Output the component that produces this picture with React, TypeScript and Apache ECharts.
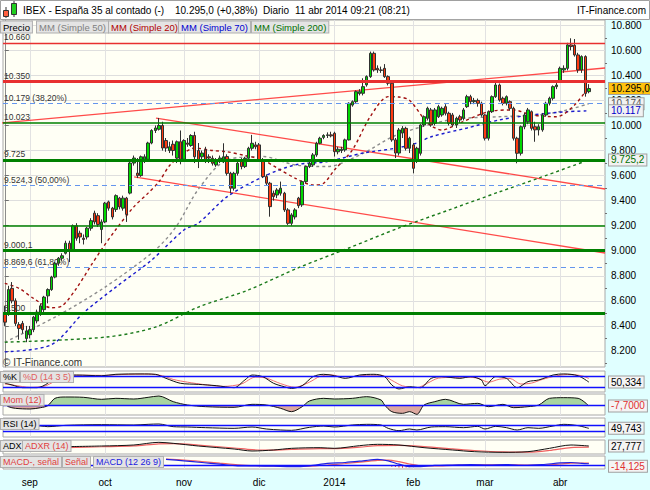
import { useEffect, useRef } from 'react';
import * as echarts from 'echarts';

// ---------------- data ----------------
// daily candles [open, close, low, high], 22 Aug 2013 .. 11 Apr 2014
const ohlc = [
  [8500,8430,8400,8560],[8500,8690,8480,8720],[8700,8600,8580,8750],[8600,8420,8400,8620],[8410,8380,8290,8430],
  [8420,8370,8340,8440],[8300,8360,8270,8400],[8330,8370,8300,8400],[8370,8470,8350,8480],[8440,8510,8420,8530],
  [8500,8560,8480,8580],[8530,8630,8510,8640],[8640,8690,8580,8700],[8690,8790,8680,8800],[8790,8900,8780,8910],
  [8900,8940,8880,8950],[8940,8960,8920,8980],[8980,9060,8970,9080],[9060,9000,8910,9080],[9000,9200,8990,9210],
  [9200,9100,9080,9220],[9140,9110,9060,9160],[9100,9090,9050,9130],[9110,9180,9090,9190],[9180,9240,9160,9260],
  [9300,9230,9210,9320],[9280,9210,9190,9300],[9170,9230,9060,9250],[9230,9380,9220,9390],[9390,9340,9320,9400],
  [9340,9270,9250,9350],[9330,9440,9310,9450],[9420,9350,9330,9430],[9340,9420,9320,9440],[9420,9290,9230,9430],
  [9460,9700,9450,9710],[9700,9740,9680,9760],[9620,9600,9580,9740],[9600,9750,9590,9760],[9720,9750,9700,9770],
  [9730,9860,9720,9870],[9860,9960,9850,9970],[9960,9980,9940,10000],[9970,10000,9960,10060],[10000,9820,9800,10030],
  [9880,9820,9790,9900],[9800,9830,9780,9870],[9850,9800,9760,9880],[9740,9870,9700,9880],[9870,9730,9690,9960],
  [9730,9880,9720,9890],[9860,9850,9830,9900],[9840,9920,9830,9930],[9920,9750,9700,9950],[9800,9720,9660,9860],
  [9750,9780,9730,9800],[9805,9725,9700,9830],[9750,9740,9700,9770],[9738,9698,9680,9760],[9685,9725,9670,9740],
  [9720,9740,9700,9760],[9725,9750,9700,9858],[9752,9618,9600,9770],[9618,9499,9459,9630],[9499,9618,9480,9630],
  [9618,9698,9600,9710],[9725,9672,9650,9740],[9672,9738,9660,9750],[9738,9818,9720,9830],[9818,9858,9800,9925],
  [9845,9830,9810,9870],[9845,9725,9710,9860],[9725,9592,9580,9740],[9592,9539,9520,9610],[9539,9352,9272,9550],
  [9459,9432,9400,9480],[9445,9485,9420,9500],[9459,9499,9440,9552],[9459,9326,9310,9470],[9326,9219,9206,9340],
  [9219,9286,9200,9300],[9270,9326,9250,9340],[9420,9360,9340,9430],[9366,9552,9350,9560],[9552,9672,9540,9680],
  [9672,9698,9660,9710],[9685,9765,9670,9780],[9765,9858,9750,9870],[9858,9898,9850,9910],[9905,9920,9890,9930],
  [9920,9925,9900,9945],[9925,9917,9905,9950],[9938,9791,9752,9950],[9790,9810,9770,9830],[9800,9810,9780,9830],
  [9805,9885,9790,9895],[9885,10177,9880,10185],[10163,10190,10150,10200],[10190,10270,10180,10280],[10255,10270,10240,10290],
  [10257,10310,10240,10377],[10324,10390,10310,10400],[10390,10576,10380,10590],[10576,10443,10430,10590],[10456,10443,10420,10480],
  [10443,10440,10420,10470],[10456,10390,10380,10490],[10390,10337,10320,10400],[10337,9885,9870,10350],[9885,9780,9740,9900],
  [9780,9964,9760,9980],[9940,9977,9900,9995],[9977,9818,9800,9990],[9818,9898,9780,9910],[9845,9658,9618,9860],
  [9725,9818,9700,9830],[9778,10004,9760,10010],[10004,10070,9990,10080],[10057,10137,10040,10150],[10124,10004,9990,10140],
  [10017,10124,10000,10140],[10070,10150,10060,10165],[10084,10137,10070,10150],[10150,10097,10080,10170],[10097,10017,10000,10110],
  [10084,10004,9990,10100],[10004,10057,9980,10070],[10070,10044,10020,10085],[10057,10124,10040,10140],[10150,10230,10140,10245],
  [10230,10190,10170,10245],[10190,10200,10170,10220],[10200,10177,10150,10215],[10177,10084,10070,10190],[10084,9898,9880,10090],
  [9898,10110,9880,10120],[10110,10230,10100,10240],[10230,10323,10220,10340],[10323,10203,10190,10335],[10217,10177,10160,10230],
  [10177,10230,10160,10240],[10190,10137,10120,10200],[10137,9898,9880,10150],[9898,9778,9698,9910],[9778,9990,9760,10000],
  [9990,10084,9970,10100],[10030,10124,10010,10140],[10110,9977,9960,10120],[9990,9965,9870,10030],[9965,9990,9920,10010],
  [9965,10084,9950,10100],[10084,10177,10070,10190],[10177,10217,10160,10230],[10217,10310,10200,10320],[10310,10323,10290,10340],
  [10350,10456,10340,10470],[10443,10456,10420,10480],[10456,10643,10440,10660],[10643,10630,10600,10696],[10640,10563,10550,10690],
  [10563,10443,10420,10580],[10443,10550,10420,10560],[10550,10256,10230,10560],[10270,10295,10257,10330],
];

const monthTickIdx = [7, 28, 50, 71, 92, 114, 134, 155];
const monthNames = ['sep', 'oct', 'nov', 'dic', '2014', 'feb', 'mar', 'abr'];
const priceTicks = [8200, 8400, 8600, 8800, 9000, 9200, 9400, 9600, 9800, 10000, 10200, 10400, 10600, 10800];
const priceMinorTicks = [8100, 8300, 8500, 8700, 8900, 9100, 9300, 9500, 9700, 9900, 10100, 10300, 10500, 10700];

// moving averages [dayIndex, value]
const ma20 = [[0,8740],[4,8700],[8,8620],[13,8545],[16,8560],[20,8700],[24,8880],[27,9010],[31,9170],[36,9350],[40,9460],[43,9550],[46,9680],[50,9780],[53,9820],[58,9800],[62,9790],[67,9760],[72,9725],[76,9660],[81,9580],[86,9525],[89,9539],[92,9645],[97,9805],[102,10071],[107,10230],[110,10227],[113,10200],[118,10020],[122,9964],[127,10020],[135,10110],[142,10124],[147,10084],[154,10070],[159,10163],[163,10310]];
const ma50 = [[0,8270],[14,8470],[28,8710],[42,9006],[48,9200],[54,9490],[62,9725],[72,9752],[81,9685],[90,9672],[100,9778],[109,9920],[124,10044],[138,10070],[149,10084],[157,10124],[163,10174]];
const ma70 = [[0,8193],[13,8250],[22,8505],[31,8710],[41,8926],[50,9166],[54,9220],[62,9430],[72,9590],[81,9685],[90,9712],[100,9780],[109,9818],[115,9860],[119,9910],[129,9980],[138,10044],[147,10084],[157,10110],[163,10117]];
const ma200 = [[0,8270],[28,8310],[42,8390],[54,8550],[68,8687],[82,8865],[96,9022],[110,9182],[124,9326],[138,9470],[149,9580],[163,9725.2]];

// horizontal levels
const resistanceLevels = [10660, 10350];
const supportLevels = [10023, 9725, 9200, 9000.1, 8500];
const supportLabels = ['10.023', '9.725', '', '9.000,1', '8.500'];
const fibLevels = [10179, 9524.3, 8869.6];
const fibPcts = ['38,20%', '50,00%', '61,80%'];
// trend lines: [[dayIndex, price], [dayIndex, price]]
const trendLines = [
  [[-1.34, 10020], [167.5, 10459]],
  [[42.2, 10059], [167.5, 9493]],
  [[36.1, 9589], [167.5, 8982]],
];
const lastPrice = 10295;
const lastMa50 = 10174;
const lastMa70 = 10117;
const lastMa200 = 9725.2;

// indicators [dayIndex, value]
const stochK = [[0,45],[2,35],[5,20],[9,20],[12,44],[14,80],[20,89],[27,85],[31,93],[38,95],[42,93],[45,71],[49,44],[54,38],[59,31],[64,20],[67,62],[69,89],[72,80],[75,44],[78,25],[80,16],[83,31],[86,80],[89,93],[92,85],[95,71],[99,89],[103,93],[106,80],[108,35],[110,13],[113,25],[116,20],[119,71],[122,80],[127,71],[130,80],[133,62],[134,31],[137,80],[140,71],[143,20],[146,53],[149,62],[153,89],[156,95],[160,85],[163,50.334]];
const stochD = [[0,40],[3,32],[7,22],[11,28],[14,55],[17,82],[22,88],[28,87],[33,92],[40,94],[44,85],[47,65],[51,50],[56,36],[61,27],[66,40],[70,78],[73,72],[77,42],[81,22],[85,50],[88,82],[91,90],[94,80],[97,80],[101,88],[105,88],[108,60],[111,30],[115,20],[118,45],[121,72],[125,76],[129,77],[132,72],[135,50],[138,66],[141,70],[144,40],[147,45],[150,65],[154,85],[157,92],[161,85],[163,70]];
const mom = [[0,70],[1,-30],[3,-80],[7,-100],[10,-60],[12,0],[14,220],[17,260],[22,250],[27,190],[31,220],[36,200],[40,250],[43,290],[47,120],[51,20],[56,-30],[64,-50],[69,40],[73,20],[77,-80],[80,-180],[83,-30],[85,140],[89,220],[92,200],[97,220],[101,270],[105,170],[106,20],[108,-180],[111,-230],[113,-180],[115,-260],[117,20],[120,120],[123,190],[128,40],[132,70],[135,-30],[139,40],[142,-60],[146,-30],[149,20],[152,220],[156,240],[160,220],[163,-7.7]];
const rsi = [[0,62],[5,58],[10,67.5],[12,62.5],[17,72.5],[27,77.5],[36,75],[40,80],[43,82.5],[47,62.5],[51,60],[56,55],[64,50],[69,60],[73,45],[77,37.5],[80,35],[85,57.5],[89,67.5],[92,60],[97,75],[101,80],[105,75],[107,50],[110,32.5],[113,45],[115,37.5],[119,60],[123,62.5],[128,55],[132,65],[134,45],[137,65],[140,55],[143,37.5],[146,55],[149,50],[153,67.5],[156,80],[160,70],[163,49.743]];
const adx = [[17,26.2],[27,27.8],[36,30.2],[43,36.6],[47,34.2],[54,27.8],[64,20.6],[69,15.8],[75,18.2],[80,22.2],[88,23.8],[92,22.2],[99,28.6],[104,31.8],[110,30.2],[117,23.8],[125,18.2],[131,14.2],[139,12.6],[146,14.2],[152,22.2],[158,30.2],[163,27.777]];
const adxr = [[17,24],[27,26],[36,28],[43,33],[47,33.5],[54,30],[64,23],[69,19],[75,18],[80,19.5],[88,21.5],[92,21.5],[99,25],[104,28.5],[110,29.5],[117,26.5],[125,21],[131,17],[139,13.5],[146,13],[152,17],[158,24],[163,25]];
const macd = [[45,68],[50,50],[55,30],[60,10],[65,-10],[70,-12],[75,-15],[80,-20],[85,-10],[90,20],[95,30],[100,50],[104,68],[107,50],[110,10],[113,-20],[116,-20],[120,-5],[125,0],[130,5],[135,0],[140,5],[145,-5],[150,5],[155,25],[158,30],[161,20],[163,15]];
const macdSignal = [[45,72],[50,60],[55,42],[60,22],[65,2],[70,-8],[75,-12],[80,-16],[85,-14],[90,0],[95,18],[100,38],[104,55],[107,58],[110,40],[113,12],[116,-8],[120,-12],[125,-5],[130,0],[135,2],[140,2],[145,0],[150,0],[155,12],[158,22],[161,24],[163,22]];
const macdHist = [[108,-20],[109,-25],[110,-30],[111,-32],[112,-30],[113,-28],[114,-20],[115,-12],[116,-6]];
const macdLast = -14.125;

// ---------------- helpers ----------------
const FONT = 'Liberation Sans, Arial, sans-serif';
function fmt(v: number, dec = 0) {
  const s = Math.abs(v).toFixed(dec);
  const parts = s.split('.');
  const g = parts[0].replace(/\B(?=(\d{3})+(?!\d))/g, '.');
  return (v < 0 ? '-' : '') + g + (parts[1] ? ',' + parts[1] : '');
}

const SLOTS = Array.from({ length: 168 }, (_, i) => String(i));
const XMIN = -0.5;
const XMAX = 167.5;

const gridDefs = [
  { top: 20, height: 347 },
  { top: 371, height: 21 },
  { top: 394, height: 21 },
  { top: 418, height: 19 },
  { top: 440, height: 14 },
  { top: 456, height: 13 },
];
const panelRanges = [
  [-3.6, 111],
  [-280, 350],
  [-15, 127.5],
  [8.6, 42.2],
  [-48, 108],
];

function boxText(text: string, x: number, y: number, color: string, size = 9.5) {
  return {
    type: 'text',
    x, y, z: 50,
    style: {
      text, fill: color, font: size + 'px ' + FONT,
      verticalAlign: 'middle',
      backgroundColor: '#e4e4e4', borderColor: '#b0b0b0', borderWidth: 1,
      padding: [1, 2, 0, 2],
    },
  };
}

function endLabel(value: number, text: string, color: string, bg: string) {
  return {
    yAxis: value,
    lineStyle: { color: 'rgba(0,0,0,0)', width: 0, opacity: 1 },
    label: {
      show: true, position: 'end', distance: 4, formatter: text, opacity: 1,
      color, fontSize: 10, fontFamily: FONT,
      backgroundColor: bg, borderColor: '#a0a0a0', borderWidth: 1, padding: [1, 2, 0, 2],
    },
  };
}

function buildOption() {
  const thick = [10350, 9725, 9000.1, 8500];
  const levelData: any[] = [];
  resistanceLevels.forEach((v) => {
    levelData.push({
      yAxis: v,
      lineStyle: { color: '#e83030', width: thick.includes(v) ? 3 : 1.4, type: 'solid' },
      label: { show: true, formatter: fmt(v) },
    });
  });
  fibLevels.forEach((v, i) => {
    levelData.push({
      yAxis: v,
      lineStyle: { color: '#6495ed', width: 1, type: [5, 4] },
      label: { show: true, formatter: fmt(v, v % 1 ? 1 : 0) + ' (' + fibPcts[i] + ')' },
    });
  });
  supportLevels.forEach((v, i) => {
    levelData.push({
      yAxis: v,
      lineStyle: { color: '#008000', width: thick.includes(v) ? 3 : 1.6, type: 'solid' },
      label: { show: !!supportLabels[i], formatter: supportLabels[i] },
    });
  });

  const grids = gridDefs.map((g) => ({
    left: 3, width: 602, top: g.top, height: g.height,
    show: true, backgroundColor: '#fffff5', borderColor: '#a8a8a8', borderWidth: 1,
  }));

  const xAxes: any[] = [
    { type: 'category', gridIndex: 0, data: SLOTS, show: false, boundaryGap: true },
  ];
  gridDefs.forEach((_, gi) => {
    xAxes.push({
      type: 'value', gridIndex: gi, min: XMIN, max: XMAX, position: 'bottom',
      axisLine: { show: false },
      axisTick: { show: false, customValues: monthTickIdx },
      axisLabel: {
        show: gi === 5, customValues: monthTickIdx,
        formatter: (v: number) => monthNames[monthTickIdx.indexOf(Math.round(v))] || '',
        fontSize: 10, fontFamily: FONT, color: '#000', margin: 8,
      },
      splitLine: { show: true, lineStyle: { color: '#e2e2e2', width: 1 } },
    });
  });

  const yAxes: any[] = [
    {
      type: 'value', gridIndex: 0, position: 'right', min: 8072, max: 10842,
      axisLine: { show: true, lineStyle: { color: '#8c8c8c' } },
      axisTick: { show: true, customValues: priceTicks, length: 4, lineStyle: { color: '#707070' } },
      axisLabel: { customValues: priceTicks, formatter: (v: number) => fmt(v), fontSize: 10, fontFamily: FONT, color: '#000', margin: 6 },
      splitLine: { show: true, lineStyle: { color: '#dedede' } },
    },
    {
      type: 'value', gridIndex: 0, position: 'right', min: 8072, max: 10842,
      axisLine: { show: false },
      axisTick: { show: true, customValues: priceMinorTicks, length: 2, lineStyle: { color: '#707070' } },
      axisLabel: { show: false },
      splitLine: { show: false },
    },
  ];
  panelRanges.forEach((r, i) => {
    yAxes.push({
      type: 'value', gridIndex: i + 1, min: r[0], max: r[1], position: 'right',
      axisLine: { show: false }, axisTick: { show: false }, axisLabel: { show: false }, splitLine: { show: false },
    });
  });

  const dashed = (name: string, data: number[][], color: string) => ({
    name, type: 'line', xAxisIndex: 1, yAxisIndex: 0, data, showSymbol: false, smooth: 0.3,
    lineStyle: { color, width: 1.4, type: [3, 3] }, z: 3,
  });

  const blueLine = { color: '#1010ff', width: 1.3, type: 'solid' };

  const series: any[] = [
    {
      name: 'levels', type: 'line', xAxisIndex: 1, yAxisIndex: 0, data: [], z: 1,
      markLine: {
        symbol: 'none', silent: true, animation: false,
        label: { position: 'insideStartTop', distance: [1, 1], fontSize: 8.5, fontFamily: FONT, color: '#333' },
        data: levelData,
      },
    },
    ...trendLines.map((t, i) => ({
      name: 'trend' + i, type: 'line', xAxisIndex: 1, yAxisIndex: 0, data: t, showSymbol: false, z: 2,
      lineStyle: { color: '#ff2a2a', width: 1.3, opacity: 0.85 },
    })),
    {
      name: 'Precio', type: 'candlestick', xAxisIndex: 0, yAxisIndex: 0, data: ohlc, barWidth: 3, z: 4,
      itemStyle: { color: '#00d800', color0: '#ff3a10', borderColor: '#303030', borderColor0: '#303030', borderWidth: 1 },
    },
    dashed('MM50', ma50, '#8c8c8c'),
    dashed('MM70', ma70, '#1a1acc'),
    dashed('MM200', ma200, '#1a7a1a'),
    dashed('MM20', ma20, '#a01010'),
    {
      name: 'rightLabels', type: 'line', xAxisIndex: 1, yAxisIndex: 0, data: [], z: 10,
      markLine: {
        symbol: 'none', silent: true, animation: false,
        data: [
          endLabel(lastMa50, fmt(lastMa50), '#555', '#f2f2f2'),
          endLabel(lastMa70, fmt(lastMa70), '#0000cc', '#f2f2f2'),
          endLabel(lastMa200, fmt(lastMa200, 1), '#007000', '#f2f2f2'),
          endLabel(lastPrice, fmt(lastPrice, 1), '#000', '#ffc20e'),
        ],
      },
    },
    {
      name: '%D', type: 'line', xAxisIndex: 2, yAxisIndex: 2, data: stochD, showSymbol: false, smooth: 0.3,
      lineStyle: { color: '#f07070', width: 1 },
    },
    {
      name: '%K', type: 'line', xAxisIndex: 2, yAxisIndex: 2, data: stochK, showSymbol: false, smooth: 0.3,
      lineStyle: { color: '#111', width: 1 },
      markLine: {
        symbol: 'none', silent: true, animation: false,
        data: [
          { yAxis: 80, lineStyle: blueLine, label: { show: false } },
          { yAxis: 20, lineStyle: blueLine, label: { show: false } },
          endLabel(stochK[stochK.length - 1][1], fmt(stochK[stochK.length - 1][1], 3), '#000', '#f4f4f4'),
        ],
      },
    },
    {
      name: 'MomArea', type: 'line', xAxisIndex: 3, yAxisIndex: 3, data: mom, showSymbol: false, smooth: 0.3,
      lineStyle: { width: 0 }, areaStyle: { opacity: 1, origin: 0 },
    },
    {
      name: 'Mom', type: 'line', xAxisIndex: 3, yAxisIndex: 3, data: mom, showSymbol: false, smooth: 0.3,
      lineStyle: { color: '#111', width: 1 },
      markLine: {
        symbol: 'none', silent: true, animation: false,
        data: [
          { yAxis: 0, lineStyle: blueLine, label: { show: false } },
          endLabel(mom[mom.length - 1][1], fmt(mom[mom.length - 1][1], 4), '#e03030', '#f4f4f4'),
        ],
      },
    },
    {
      name: 'RSI', type: 'line', xAxisIndex: 4, yAxisIndex: 4, data: rsi, showSymbol: false, smooth: 0.3,
      lineStyle: { color: '#111', width: 1 },
      markLine: {
        symbol: 'none', silent: true, animation: false,
        data: [
          { yAxis: 70, lineStyle: blueLine, label: { show: false } },
          { yAxis: 30, lineStyle: blueLine, label: { show: false } },
          endLabel(rsi[rsi.length - 1][1], fmt(rsi[rsi.length - 1][1], 3), '#000', '#f4f4f4'),
        ],
      },
    },
    {
      name: 'ADXR', type: 'line', xAxisIndex: 5, yAxisIndex: 5, data: adxr, showSymbol: false, smooth: 0.3,
      lineStyle: { color: '#f06060', width: 1.2 },
    },
    {
      name: 'ADX', type: 'line', xAxisIndex: 5, yAxisIndex: 5, data: adx, showSymbol: false, smooth: 0.3,
      lineStyle: { color: '#111', width: 1 },
      markLine: {
        symbol: 'none', silent: true, animation: false,
        data: [endLabel(adx[adx.length - 1][1], fmt(adx[adx.length - 1][1], 3), '#000', '#f4f4f4')],
      },
    },
    {
      name: 'hist', type: 'bar', xAxisIndex: 6, yAxisIndex: 6, data: macdHist, barWidth: 1,
      itemStyle: { color: '#e03030' },
    },
    {
      name: 'Señal', type: 'line', xAxisIndex: 6, yAxisIndex: 6, data: macdSignal, showSymbol: false, smooth: 0.3,
      lineStyle: { color: '#f06060', width: 1.2 },
    },
    {
      name: 'MACD', type: 'line', xAxisIndex: 6, yAxisIndex: 6, data: macd, showSymbol: false, smooth: 0.3,
      lineStyle: { color: '#2020e0', width: 1.2 },
      markLine: {
        symbol: 'none', silent: true, animation: false,
        data: [
          { yAxis: 0, lineStyle: blueLine, label: { show: false } },
          endLabel(macdLast, fmt(macdLast, 3), '#e03030', '#f4f4f4'),
        ],
      },
    },
  ];
  const momAreaIndex = series.findIndex((s) => s.name === 'MomArea');

  const graphic: any[] = [
    { type: 'rect', z: -10, shape: { x: 605, y: 20, width: 45, height: 470 }, style: { fill: '#e0ffff' } },
    { type: 'rect', z: -10, shape: { x: 0, y: 470, width: 650, height: 20 }, style: { fill: '#e0ffff' } },
    { type: 'rect', z: -5, shape: { x: 0.5, y: 0.5, width: 649, height: 19 }, style: { fill: '#fff', stroke: '#a0a0a0' } },
    { type: 'line', z: 5, shape: { x1: 6, y1: 7, x2: 6, y2: 18 }, style: { stroke: '#333' } },
    { type: 'rect', z: 6, shape: { x: 3.5, y: 10.5, width: 5, height: 6 }, style: { fill: '#ff6040', stroke: '#333' } },
    { type: 'line', z: 5, shape: { x1: 14, y1: 1, x2: 14, y2: 17 }, style: { stroke: '#333' } },
    { type: 'rect', z: 6, shape: { x: 11.5, y: 3.5, width: 5, height: 11 }, style: { fill: '#20d020', stroke: '#333' } },
    { type: 'text', z: 5, x: 23, y: 10, style: { text: 'IBEX - España 35 al contado (-)', font: '10px ' + FONT, fill: '#000', verticalAlign: 'middle' } },
    { type: 'text', z: 5, x: 175, y: 10, style: { text: fmt(lastPrice, 1) + ' (+0,38%)', font: '10px ' + FONT, fill: '#000', verticalAlign: 'middle' } },
    { type: 'text', z: 5, x: 263, y: 10, style: { text: 'Diario', font: '10px ' + FONT, fill: '#000', verticalAlign: 'middle' } },
    { type: 'text', z: 5, x: 295, y: 10, style: { text: '11 abr 2014 09:21 (08:21)', font: '10px ' + FONT, fill: '#000', verticalAlign: 'middle' } },
    { type: 'text', z: 5, x: 646, y: 10, style: { text: 'IT-Finance.com', font: '10px ' + FONT, fill: '#000', verticalAlign: 'middle', align: 'right' } },
    boxText('Precio', 1, 27, '#000'),
    boxText('MM (Simple 50)', 37, 27, '#808080'),
    boxText('MM (Simple 20)', 109, 27, '#b00000'),
    boxText('MM (Simple 70)', 179, 27, '#0000d0'),
    boxText('MM (Simple 200)', 252, 27, '#007000'),
    boxText('%K', 1, 377, '#000', 9),
    boxText('%D (14 3 5)', 21, 377, '#e06060', 9),
    boxText('Mom (12)', 1, 400, '#e04040', 9),
    boxText('RSI (14)', 1, 424, '#000', 9),
    boxText('ADX', 1, 446, '#000', 9),
    boxText('ADXR (14)', 23, 446, '#e04040', 9),
    boxText('MACD-, señal', 1, 462, '#e04040', 9),
    boxText('Señal', 63, 462, '#e04040', 9),
    boxText('MACD (12 26 9)', 94, 462, '#2020e0', 9),
    { type: 'text', z: 50, x: 3, y: 362, style: { text: '© IT-Finance.com', font: '10px ' + FONT, fill: '#333', verticalAlign: 'middle' } },
  ];

  return {
    animation: false,
    backgroundColor: '#ffffff',
    textStyle: { fontFamily: FONT },
    grid: grids,
    xAxis: xAxes,
    yAxis: yAxes,
    visualMap: [
      {
        type: 'piecewise', show: false, seriesIndex: momAreaIndex, dimension: 1,
        pieces: [
          { gt: 0, lte: 100000, color: '#a8d4a0' },
          { gt: -100000, lte: 0, color: '#dca8a0' },
        ],
      },
    ],
    series,
    graphic,
  };
}

export default function App() {
  const ref = useRef<HTMLDivElement>(null);
  useEffect(() => {
    if (!ref.current) return;
    const chart = echarts.init(ref.current, null, { renderer: 'svg' });
    chart.setOption(buildOption() as any);
    return () => chart.dispose();
  }, []);
  return <div ref={ref} style={{ position: 'fixed', left: 0, top: 0, width: 650, height: 490 }} />;
}
